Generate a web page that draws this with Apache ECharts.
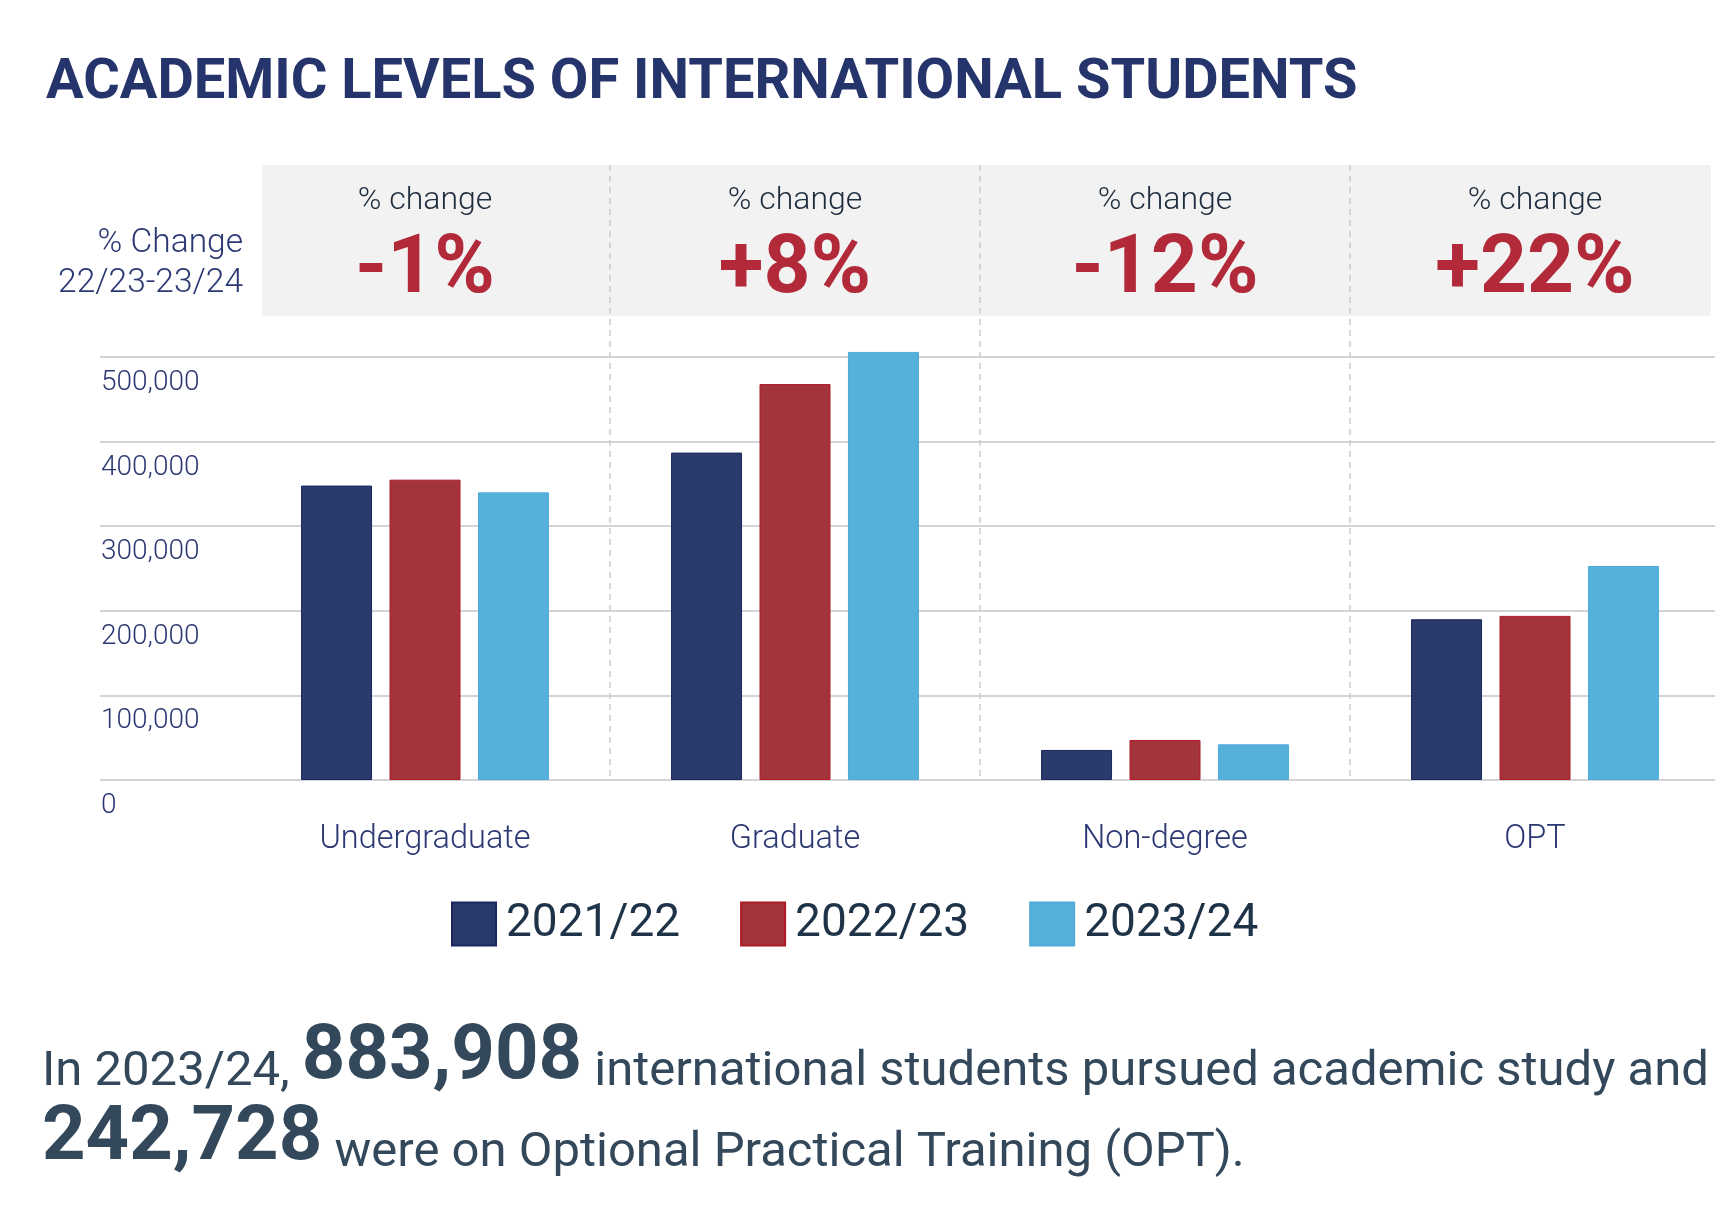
<!DOCTYPE html>
<html>
<head>
<meta charset="utf-8">
<script src="https://cdn.jsdelivr.net/npm/echarts@6/dist/echarts.min.js"></script>
<style>
  html, body { margin: 0; padding: 0; background: #ffffff; }
  #chart { width: 1720px; height: 1206px; }
</style>
</head>
<body>
<div id="chart"></div>
<script>
// ---- Data ----
const categories = ['Undergraduate', 'Graduate', 'Non-degree', 'OPT'];
const seriesNames = ['2021/22', '2022/23', '2023/24'];
const values2021 = [348000, 387000, 35500, 190000];
const values2022 = [355000, 468000, 47300, 194000];
const values2023 = [340000, 506000, 42200, 253000];
const pctChange = [-1, 8, -12, 22];
const yMin = 0;
const yMax = 500000;
const yStep = 100000;
const academicTotal = '883,908';
const optTotal = '242,728';

// ---- Styles ----
const FONT = 'Roboto, "Noto Sans", sans-serif';
const NAVY_TEXT = '#2b3873';
const SLATE = '#33485a';
const colors = ['#2a3b6b', '#a3343b', '#56b1da'];
const borders = ['#1b2660', '#b01a26', '#4eaadb'];

const chart = echarts.init(document.getElementById('chart'), null, { renderer: 'canvas' });

const plotTop = 357;
const plotBottom = 1206 - 780;
const boxTop = 165;
const boxHeight = 151;

const barSeries = [values2021, values2022, values2023].map((vals, i) => ({
  name: seriesNames[i],
  type: 'bar',
  xAxisIndex: 1,
  yAxisIndex: 1,
  data: vals,
  barWidth: 71,
  barGap: '24.6%',
  clip: false,
  itemStyle: { color: colors[i], borderColor: borders[i], borderWidth: 1 },
  z: 3
}));

const fmtPct = v => (v > 0 ? '+' : '') + v + '%';

const option = {
  backgroundColor: '#ffffff',
  animation: false,
  title: [
    {
      text: 'ACADEMIC LEVELS OF INTERNATIONAL STUDENTS',
      left: 46, top: 52, padding: 0,
      textStyle: { fontFamily: FONT, fontSize: 56, fontWeight: 'bold', color: '#25346a', lineHeight: 64 }
    },
    {
      text: '{r|In 2023/24, }{b|' + academicTotal + '}{r| international students pursued academic study and}\n{b|' + optTotal + '}{r| were on Optional Practical Training (OPT).}',
      left: 42, top: 1016, padding: 0,
      textStyle: {
        rich: {
          r: { fontFamily: FONT, fontSize: 49, fontWeight: 400, color: SLATE, lineHeight: 63, verticalAlign: 'bottom' },
          b: { fontFamily: FONT, fontSize: 76, fontWeight: 'bold', color: SLATE, lineHeight: 81, verticalAlign: 'bottom' }
        }
      }
    }
  ],
  graphic: [
    {
      type: 'text', x: 243, y: 224, silent: true,
      style: {
        text: '% Change\n22/23-23/24', align: 'right', verticalAlign: 'top',
        fontFamily: FONT, fontSize: 33.5, fontWeight: 300, fill: NAVY_TEXT, lineHeight: 40
      }
    }
  ],
  legend: {
    data: seriesNames,
    left: 446, top: 896,
    icon: 'rect',
    itemWidth: 44, itemHeight: 43,
    itemGap: 60,
    textStyle: { fontFamily: FONT, fontSize: 46, fontWeight: 400, color: '#1e3348', padding: [0, 0, 0, 5] }
  },
  grid: [
    { left: 100, right: 5, top: plotTop, bottom: plotBottom },          // 0: y gridlines + labels
    { left: 240, right: 0, top: plotTop, bottom: plotBottom },          // 1: bars
    { left: 240, right: 0, top: boxTop, bottom: plotBottom, z: 1 },    // 2: dashed separators
    { left: 262, right: 9, top: boxTop, height: boxHeight, show: true, backgroundColor: '#f2f2f2', borderWidth: 0, z: -1 }, // 3: box
    { left: 240, right: 0, top: boxTop, height: boxHeight }             // 4: % change texts
  ],
  xAxis: [
    { gridIndex: 0, type: 'value', min: 0, max: 1, show: false },
    {
      gridIndex: 1, type: 'category', data: categories,
      axisLine: { show: false }, axisTick: { show: false }, splitLine: { show: false },
      axisLabel: { margin: 43, fontFamily: FONT, fontSize: 32.5, fontWeight: 300, color: NAVY_TEXT }
    },
    {
      gridIndex: 2, type: 'category', data: categories,
      axisLine: { show: false }, axisTick: { show: false }, axisLabel: { show: false },
      splitLine: { show: true, showMinLine: false, showMaxLine: false, lineStyle: { color: '#c9cbd0', width: 1.5, type: [6, 5] } }
    },
    { gridIndex: 3, type: 'value', min: 0, max: 1, show: false },
    { gridIndex: 4, type: 'category', data: categories, show: false }
  ],
  yAxis: [
    {
      gridIndex: 0, type: 'value', min: yMin, max: yMax, interval: yStep,
      axisLine: { show: false }, axisTick: { show: false },
      splitLine: { show: true, lineStyle: { color: '#d2d4da', width: 2 } },
      axisLabel: {
        align: 'left', margin: -1, verticalAlign: 'top', padding: [12, 0, 0, 0],
        fontFamily: FONT, fontSize: 28, fontWeight: 300, color: NAVY_TEXT,
        formatter: v => v.toLocaleString('en-US')
      }
    },
    { gridIndex: 1, type: 'value', min: yMin, max: yMax, interval: yStep, show: false },
    { gridIndex: 2, type: 'value', min: 0, max: 1, show: false },
    { gridIndex: 3, type: 'value', min: 0, max: 1, show: false },
    { gridIndex: 4, type: 'value', min: 0, max: 1, show: false }
  ],
  series: barSeries.concat([
    {
      type: 'scatter',
      xAxisIndex: 4, yAxisIndex: 4,
      symbolSize: 1,
      itemStyle: { color: 'rgba(0,0,0,0)', opacity: 1 },
      silent: true,
      data: categories.map((c, i) => [c, 0.5]),
      label: {
        show: true, position: 'inside', offset: [0, 11],
        formatter: p => '{a|% change}\n{b|' + fmtPct(pctChange[p.dataIndex]) + '}',
        rich: {
          a: { fontFamily: FONT, fontSize: 32, fontWeight: 300, color: '#1d2d3e', lineHeight: 40, align: 'center' },
          b: { fontFamily: FONT, fontSize: 82, fontWeight: 'bold', color: '#b22a3a', lineHeight: 102, align: 'center' }
        }
      },
      z: 5
    }
  ])
};

chart.setOption(option);
</script>
</body>
</html>
